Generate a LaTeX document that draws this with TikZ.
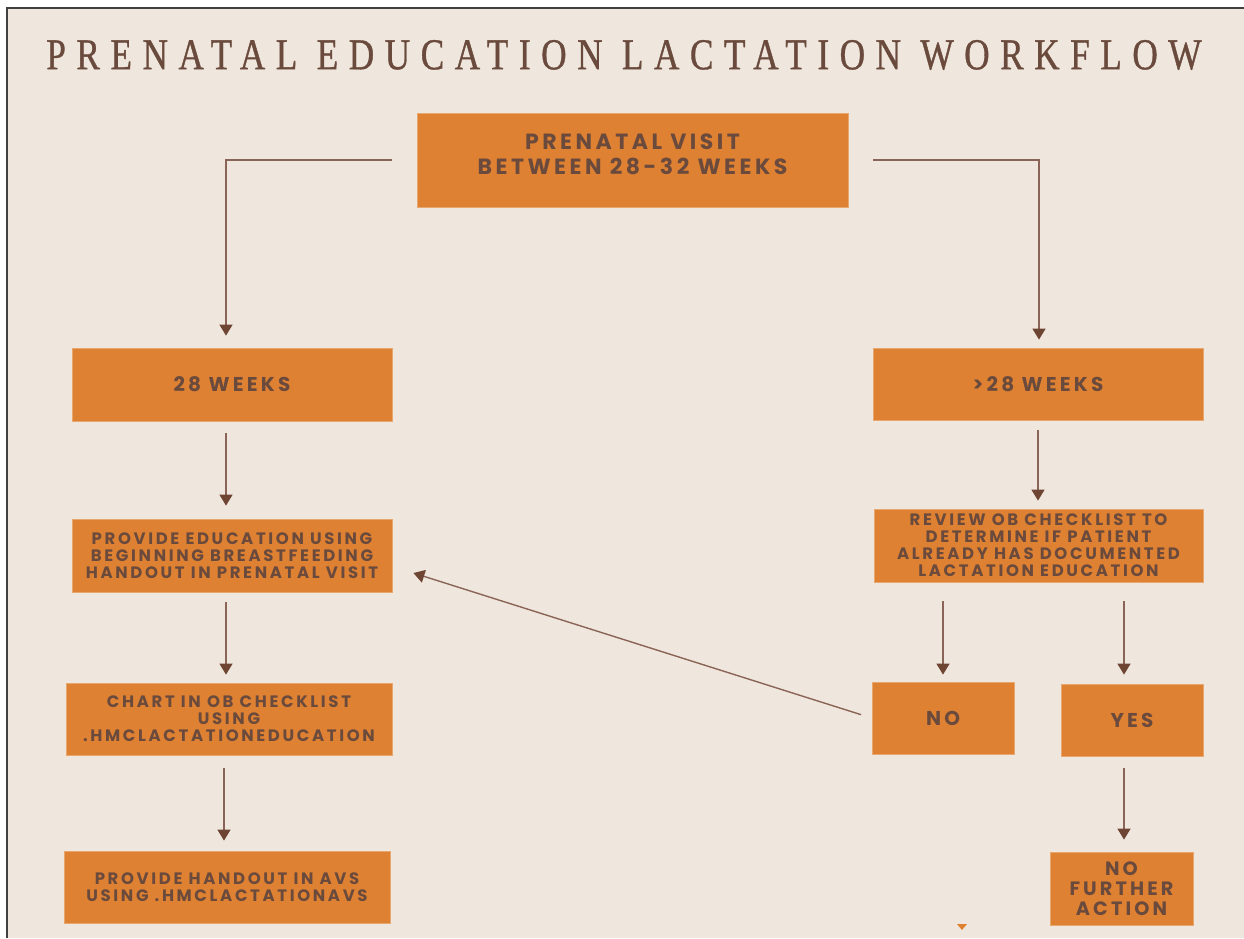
\documentclass[tikz,border=0pt]{standalone}
\usepackage{fontspec}
\usetikzlibrary{arrows.meta,calc}
\newfontfamily\boxfont{Poppins}[LetterSpace=16,UprightFont=* Bold]
\newfontfamily\titlefont{Liberation Serif}[FakeStretch=0.8,LetterSpace=24,FakeBold=0.8]
\definecolor{bg}{HTML}{EFE7DD}
\definecolor{boxc}{HTML}{DF8132}
\definecolor{txt}{HTML}{6A4A3C}
\definecolor{arrc}{HTML}{8A6456}
\definecolor{headc}{HTML}{6E4433}
\tikzset{
  box/.style={rectangle, fill=boxc, draw=boxc!70!white, line width=0.8pt, inner sep=0pt, align=center, text=txt, font=\boxfont\fontsize{16.5}{17}\selectfont},
  bigbox/.style={box, font=\boxfont\fontsize{20}{20}\selectfont},
  arr/.style={draw=arrc, line width=1.4pt, -{Triangle[width=13pt,length=11pt,fill=headc,color=headc]}},
}
\begin{document}
\begin{tikzpicture}[x=1pt,y=-1pt]
\useasboundingbox (0,0) rectangle (1244,938);
\fill[white] (0,0) rectangle (1244,938);
\fill[bg] (7,8) rectangle (1244,938);
\draw[black!75, line width=1.5pt] (7,938) -- (7,8) -- (1244,8);
\node[text=txt, font=\titlefont\fontsize{44}{46}\selectfont] (title) at (624,55) {PRENATAL EDUCATION LACTATION WORKFLOW};
\node[box, minimum width=431, minimum height=94, font=\boxfont\fontsize{22}{25}\selectfont] (top) at (632.5,160) {\raisebox{-2pt}[0pt][0pt]{\begin{tabular}{@{}c@{}}PRENATAL VISIT\\BETWEEN 28-32 WEEKS\end{tabular}}};
\node[bigbox, minimum width=320, minimum height=73] (w28) at (232,384.5) {28 WEEKS};
\node[bigbox, minimum width=330, minimum height=72] (g28) at (1038,384) {>28 WEEKS};
\node[box, minimum width=320, minimum height=73] (edu) at (232,555.5) {PROVIDE EDUCATION USING\\BEGINNING BREASTFEEDING\\HANDOUT IN PRENATAL VISIT};
\node[box, minimum width=329, minimum height=73] (rev) at (1038.5,545.5) {REVIEW OB CHECKLIST TO\\DETERMINE IF PATIENT\\ALREADY HAS DOCUMENTED\\LACTATION EDUCATION};
\node[box, minimum width=326, minimum height=72] (chart) at (229,719) {CHART IN OB CHECKLIST\\USING\\.HMCLACTATIONEDUCATION};
\node[box, minimum width=326, minimum height=72] (hand) at (227,887) {PROVIDE HANDOUT IN AVS\\USING .HMCLACTATIONAVS};
\node[bigbox, minimum width=142, minimum height=72] (no) at (943,718) {NO};
\node[bigbox, minimum width=142, minimum height=72] (yes) at (1132,720) {YES};
\node[box, minimum width=143, minimum height=73, font=\boxfont\fontsize{19.3}{20}\selectfont] (nfa) at (1121.5,888.5) {NO\\FURTHER\\ACTION};
% connectors
\draw[arr, shorten <=25pt, shorten >=12pt] (top.west) -| ([xshift=-6pt]w28.north);
\draw[arr, shorten <=25pt, shorten >=8pt] (top.east) -| ([xshift=1pt]g28.north);
\draw[arr, shorten <=12pt, shorten >=13pt] ([xshift=-6pt]w28.south) -- ([xshift=-6pt]edu.north);
\draw[arr, shorten <=10pt, shorten >=8pt] (g28.south) -- (g28.south |- rev.north);
\draw[arr, shorten <=10pt, shorten >=8pt] ([xshift=-6pt]edu.south) -- ([xshift=-6pt]edu.south |- chart.north);
\draw[arr, shorten <=13pt, shorten >=10pt] ([xshift=-5pt]chart.south) -- ([xshift=-5pt]chart.south |- hand.north);
\draw[arr, shorten <=19pt, shorten >=7pt] (no.north |- rev.south) -- (no.north);
\draw[arr, shorten <=19pt, shorten >=9pt] ([xshift=-8pt]yes.north |- rev.south) -- ([xshift=-8pt]yes.north);
\draw[arr, shorten <=12pt, shorten >=12pt] ([xshift=-8pt]yes.south) -- ([xshift=-8pt]yes.south |- nfa.north);
\draw[arr, shorten <=11pt] (no.west) -- ([xshift=21pt,yshift=-17.5pt]edu.east);
\fill[boxc] (957,924) -- (967,924) -- (962,930) -- cycle;
\end{tikzpicture}
\end{document}
